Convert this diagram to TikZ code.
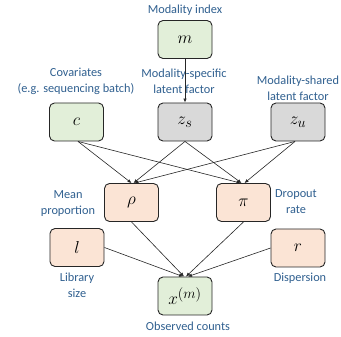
\documentclass[tikz,border=0pt]{standalone}
\usepackage{fontspec}
\setmainfont{Carlito}
\usetikzlibrary{arrows.meta}
\definecolor{lbl}{HTML}{2F5F8F}
\definecolor{gfill}{HTML}{E2EFD9}
\definecolor{grfill}{HTML}{D9D9D9}
\definecolor{pfill}{HTML}{FBE4D5}
\begin{document}
\begin{tikzpicture}[x=1pt,y=-1pt,
  var/.style={draw=black!85,line width=0.9pt,rounded corners=5pt,minimum width=54pt,minimum height=38pt,inner sep=0pt,font=\fontsize{19}{22}\selectfont},
  gvar/.style={var,fill=gfill},
  grvar/.style={var,fill=grfill},
  pvar/.style={var,fill=pfill},
  lab/.style={text=lbl,font=\fontsize{12.3}{16}\selectfont,align=center,inner sep=0pt},
  arr/.style={-{Latex[length=4pt,width=3.5pt]},line width=0.6pt,black!85}]
\useasboundingbox (0,0) rectangle (341,337);
\node[gvar] (m) at (185,39.5) {$m$};
\node[gvar] (c) at (76.5,122) {$c$};
\node[grvar] (zs) at (185,122) {$z_s$};
\node[grvar] (zu) at (298,122) {$z_u$};
\node[pvar] (rho) at (131.5,202.5) {$\rho$};
\node[pvar] (pi) at (243.5,202.5) {$\pi$};
\node[pvar] (l) at (77,247.5) {$l$};
\node[pvar] (r) at (298,248) {$r$};
\node[gvar] (x) at (185,296) {$x^{(m)}$};

\node[lab] (tm) at (185,10) {Modality index};
\node[lab] (tc) at (76,81) {Covariates\\(e.g. sequencing batch)};
\node[lab] (tzs) at (184,81) {Modality-specific\\latent factor};
\node[lab] (tzu) at (298,88.5) {Modality-shared\\latent factor};
\node[lab] (trho) at (68,204) {Mean\\proportion};
\node[lab] (tpi) at (296,202) {Dropout\\rate};
\node[lab] (tl) at (77,285) {Library\\size};
\node[lab] (tr) at (300,278) {Dispersion};
\node[lab] (tx) at (188,326) {Observed counts};

\draw[arr] (m.south) -- (zs.north);
\draw[arr] ([xshift=1.5pt]c.south) -- ([xshift=0pt]rho.north);
\draw[arr] ([xshift=1.5pt]c.south) -- ([xshift=-3pt]pi.north);
\draw[arr] (zs.south) -- ([xshift=2pt]rho.north);
\draw[arr] (zs.south) -- ([xshift=-2pt]pi.north);
\draw[arr] ([xshift=-3pt]zu.south) -- ([xshift=3pt]rho.north);
\draw[arr] ([xshift=-3pt]zu.south) -- ([xshift=1pt]pi.north);
\draw[arr] (rho.south) -- ([xshift=-1pt]x.north);
\draw[arr] (pi.south) -- ([xshift=1pt]x.north);
\draw[arr] (l.east) -- ([xshift=-2pt]x.north);
\draw[arr] (r.west) -- ([xshift=3pt]x.north);
\end{tikzpicture}
\end{document}
